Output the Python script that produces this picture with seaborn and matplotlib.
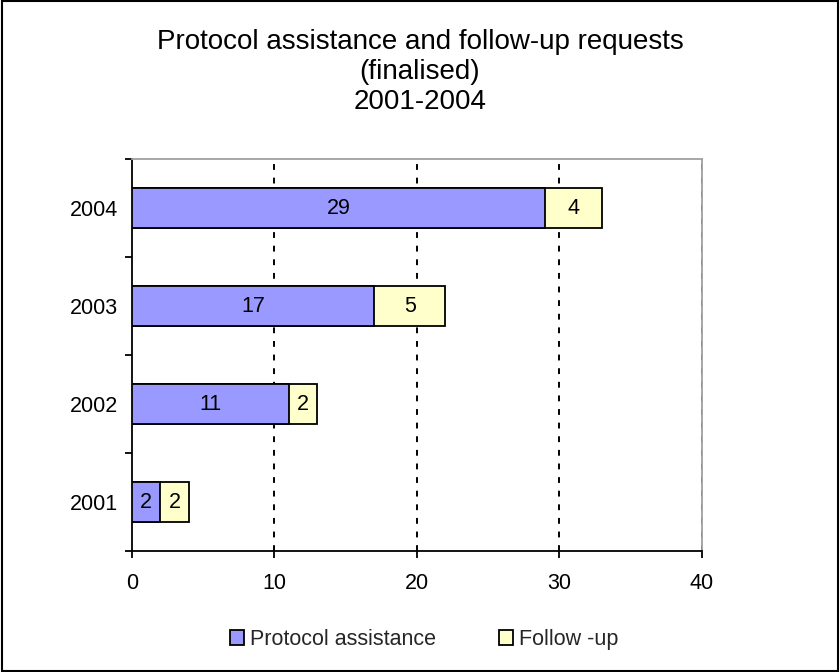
import matplotlib
matplotlib.use("Agg")
import matplotlib.pyplot as plt
from matplotlib.patches import Patch
import seaborn as sns
import pandas as pd

years = ["2001", "2002", "2003", "2004"]
protocol_assistance = [2, 11, 17, 29]
follow_up = [2, 2, 5, 4]
x_ticks = [0, 10, 20, 30, 40]

title = "Protocol assistance and follow-up requests\n(finalised)\n2001-2004"

blue = "#9999FF"
yellow = "#FFFFCC"
fs = 15.5

sns.set_theme(style="white")
plt.rcParams["font.family"] = ["Liberation Sans", "DejaVu Sans"]

df = pd.DataFrame({
    "year": years,
    "protocol": protocol_assistance,
    "follow": follow_up,
})
df["total"] = df["protocol"] + df["follow"]
order = years[::-1]

fig = plt.figure(figsize=(8.4, 6.72), dpi=100)
ax = fig.add_axes([0.157, 0.18, 0.6787, 0.5834])

# stacked bars: full total in yellow, protocol part drawn over it in blue
sns.barplot(data=df, y="year", x="total", order=order, orient="h",
            color=yellow, saturation=1, edgecolor="black", linewidth=1.3,
            width=0.4, ax=ax, zorder=3)
sns.barplot(data=df, y="year", x="protocol", order=order, orient="h",
            color=blue, saturation=1, edgecolor="black", linewidth=1.3,
            width=0.4, ax=ax, zorder=4)

# segment value labels
for i, yr in enumerate(order):
    row = df[df["year"] == yr].iloc[0]
    p, f = row["protocol"], row["follow"]
    ax.text(p / 2, i, f"{p}", ha="center", va="center", fontsize=fs,
            color="black", zorder=5)
    ax.text(p + f / 2, i, f"{f}", ha="center", va="center", fontsize=fs,
            color="black", zorder=5)

ax.set_xlim(0, 40)
ax.set_ylim(3.5, -0.5)
ax.set_xticks(x_ticks)
ax.set_xticklabels([str(t) for t in x_ticks])
ax.set_xlabel("")
ax.set_ylabel("")

# dotted vertical gridlines
for t in x_ticks[1:]:
    ax.axvline(t, color="black", linestyle=(0, (3, 4)), linewidth=1.4, zorder=2)

# y ticks between categories
ax.set_yticks([-0.5, 0.5, 1.5, 2.5, 3.5], minor=True)
ax.tick_params(axis="y", which="major", length=0, pad=10, labelsize=fs,
               colors="black")
ax.tick_params(axis="y", which="minor", left=True, length=5, width=1.3,
               color="black", direction="out")
ax.tick_params(axis="x", which="major", bottom=True, length=5, width=1.3,
               pad=11, labelsize=fs, colors="black", direction="out")

for side in ["left", "bottom"]:
    ax.spines[side].set_color("black")
    ax.spines[side].set_linewidth(1.3)
for side in ["top", "right"]:
    ax.spines[side].set_color("#A0A0A0")
    ax.spines[side].set_linewidth(1.3)

fig.text(0.5, 0.893, title, ha="center", va="center", fontsize=20,
         linespacing=1.2, color="black")

handles = [Patch(facecolor=blue, edgecolor="black", linewidth=1.3),
           Patch(facecolor=yellow, edgecolor="black", linewidth=1.3)]
fig.legend(handles, ["Protocol assistance", "Follow -up"], loc="center",
           bbox_to_anchor=(0.505, 0.048), ncol=2, frameon=False, fontsize=fs,
           handlelength=0.65, handleheight=0.65, handletextpad=0.3,
           columnspacing=2.9)

# outer frame
fig.patches.append(plt.Rectangle((0.002, 0.002), 0.996, 0.996,
                                 transform=fig.transFigure, fill=False,
                                 edgecolor="black", linewidth=1.5))

fig.savefig("out.png", dpi=100, facecolor="white")
